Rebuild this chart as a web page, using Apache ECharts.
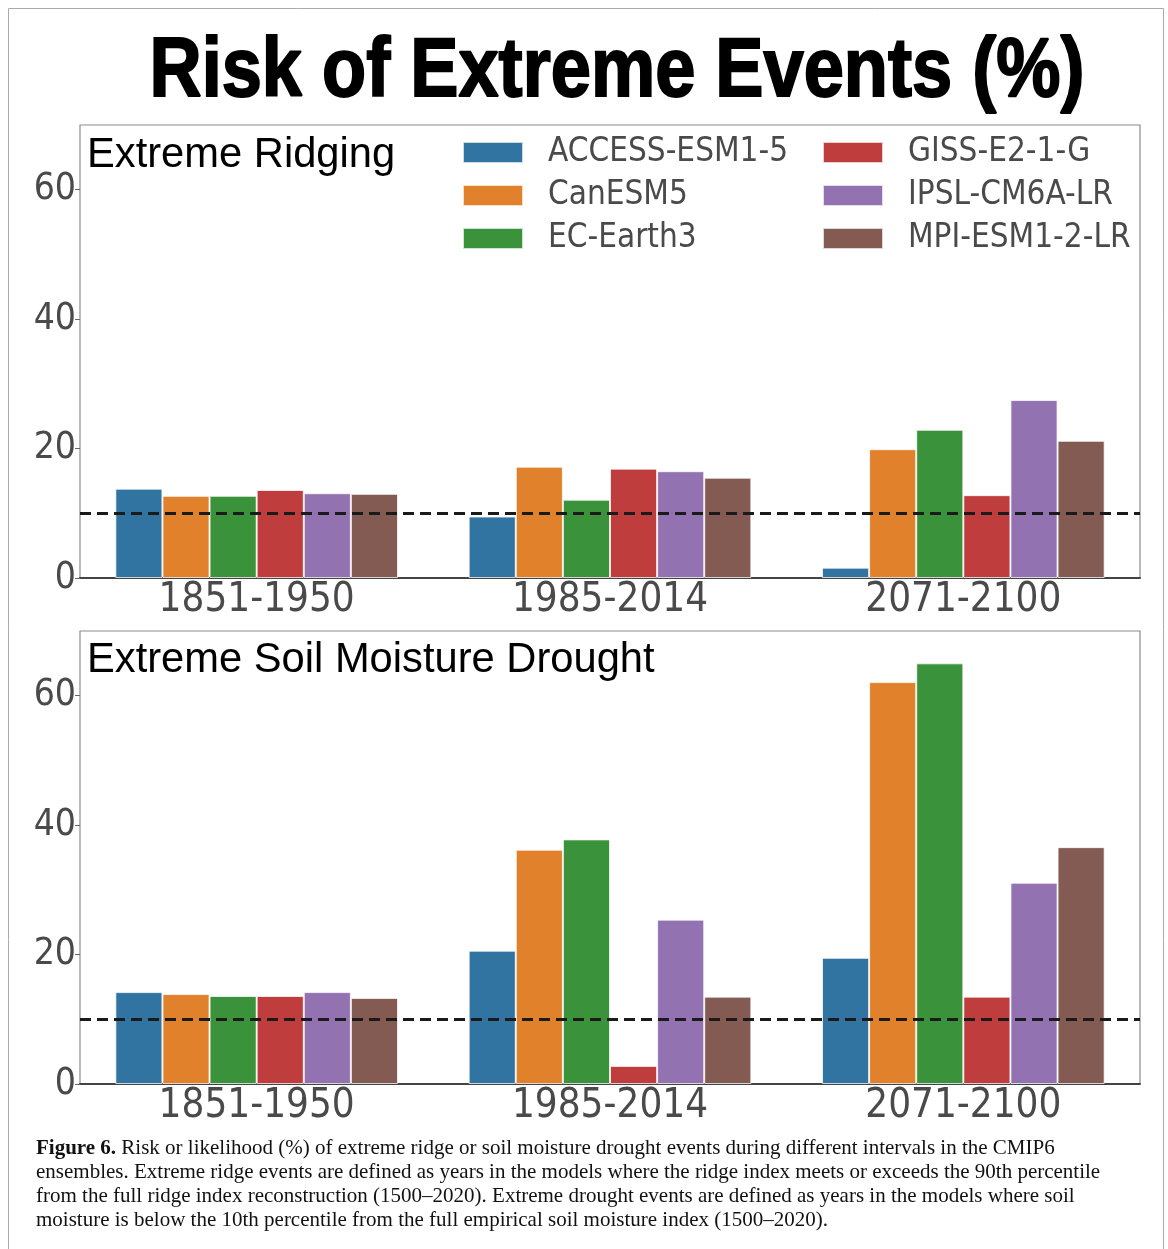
<!DOCTYPE html>
<html>
<head>
<meta charset="utf-8">
<script src="https://cdn.jsdelivr.net/npm/echarts@6/dist/echarts.min.js"></script>
<style>
html,body{margin:0;padding:0;background:#fff;}
#chart{width:1168px;height:1249px;}
</style>
</head>
<body>
<div id="chart"></div>
<script>
// ---- data ----
const categories = ['1851-1950', '1985-2014', '2071-2100'];
const models = ['ACCESS-ESM1-5', 'CanESM5', 'EC-Earth3', 'GISS-E2-1-G', 'IPSL-CM6A-LR', 'MPI-ESM1-2-LR'];
const colors = ['#3274a1', '#e1812c', '#3a923a', '#c03d3e', '#9372b2', '#845b53'];

const ridgeAccess = [13.8, 9.5, 1.6];
const ridgeCan    = [12.7, 17.2, 19.9];
const ridgeEC     = [12.7, 12.1, 22.9];
const ridgeGISS   = [13.6, 16.9, 12.8];
const ridgeIPSL   = [13.1, 16.5, 27.5];
const ridgeMPI    = [13.0, 15.5, 21.2];

const droughtAccess = [14.2, 20.6, 19.5];
const droughtCan    = [13.9, 36.2, 62.1];
const droughtEC     = [13.6, 37.8, 65.0];
const droughtGISS   = [13.6, 2.8, 13.5];
const droughtIPSL   = [14.2, 25.4, 31.1];
const droughtMPI    = [13.3, 13.5, 36.6];

const threshold = 10;
const yTicks = [0, 20, 40, 60];
const yMax = 70;

const mainTitle = 'Risk of Extreme Events (%)';
const panelTitles = ['Extreme Ridging', 'Extreme Soil Moisture Drought'];
const captionLines = [
  ['Figure 6.', ' Risk or likelihood (%) of extreme ridge or soil moisture drought events during different intervals in the CMIP6'],
  ['', 'ensembles. Extreme ridge events are defined as years in the models where the ridge index meets or exceeds the 90th percentile'],
  ['', 'from the full ridge index reconstruction (1500\u20132020). Extreme drought events are defined as years in the models where soil'],
  ['', 'moisture is below the 10th percentile from the full empirical soil moisture index (1500\u20132020).']
];

const ridgeData = [ridgeAccess, ridgeCan, ridgeEC, ridgeGISS, ridgeIPSL, ridgeMPI];
const droughtData = [droughtAccess, droughtCan, droughtEC, droughtGISS, droughtIPSL, droughtMPI];

// ---- styles ----
const NARROW = '"Liberation Sans Narrow", "Arial Narrow", "DejaVu Sans Condensed", sans-serif';
const SANS = '"Liberation Sans", Arial, sans-serif';
const SERIF = '"Liberation Serif", "Times New Roman", serif';
const tickColor = '#4a4a4a';

const grids = [
  {left: 80, top: 125, width: 1060, height: 453},
  {left: 80, top: 631, width: 1060, height: 453}
];

function makeXAxis(gi) {
  return {
    type: 'category', gridIndex: gi, data: categories,
    axisLine: {show: true, lineStyle: {color: '#444', width: 2}},
    axisTick: {show: false},
    axisLabel: {fontFamily: NARROW, fontSize: 40, color: tickColor, margin: 3}
  };
}
function makeYAxis(gi) {
  return {
    type: 'value', gridIndex: gi, min: 0, max: yMax,
    splitLine: {show: false},
    axisLine: {show: false},
    axisTick: {show: true, length: 5, lineStyle: {color: '#666'}, customValues: yTicks},
    axisLabel: {fontFamily: NARROW, fontSize: 37, color: tickColor, margin: 4, customValues: yTicks}
  };
}

const series = [];
[ridgeData, droughtData].forEach(function (panel, gi) {
  panel.forEach(function (vals, mi) {
    const s = {
      name: models[mi], type: 'bar', xAxisIndex: gi, yAxisIndex: gi,
      data: vals, barGap: '0%', barCategoryGap: '20%',
      itemStyle: {color: colors[mi], borderColor: 'rgba(255,255,255,0.75)', borderWidth: 1},
      emphasis: {disabled: true}
    };
    if (mi === 0) {
      s.markLine = {
        silent: true, symbol: ['none', 'none'],
        label: {show: false},
        lineStyle: {color: '#1a1a1a', type: [11, 6], width: 2.8},
        data: [{yAxis: threshold}],
        animation: false
      };
    }
    series.push(s);
  });
});

const legendCommon = {
  orient: 'vertical', itemWidth: 60, itemHeight: 21, itemGap: 10, padding: 0,
  icon: 'rect', selectedMode: false,
  textStyle: {fontFamily: NARROW, fontSize: 33, color: tickColor, padding: [0, 0, 0, 20]}
};

const captionGraphics = captionLines.map(function (ln, i) {
  return {
    type: 'text', x: 36, y: 1138 + i * 24,
    style: {
      text: (ln[0] ? '{b|' + ln[0] + '}' : '') + '{r|' + ln[1] + '}',
      verticalAlign: 'top',
      rich: {
        b: {fontFamily: SERIF, fontWeight: 'bold', fontSize: 21, fill: '#111'},
        r: {fontFamily: SERIF, fontSize: 21, fill: '#111'}
      }
    }
  };
});

const option = {
  animation: false,
  backgroundColor: '#fff',
  title: [
    {text: panelTitles[0], left: 87, top: 135, padding: 0,
     textStyle: {fontFamily: SANS, fontWeight: 'normal', fontSize: 41.7, color: '#000'}},
    {text: panelTitles[1], left: 87, top: 640, padding: 0,
     textStyle: {fontFamily: SANS, fontWeight: 'normal', fontSize: 41.7, color: '#000'}}
  ],
  legend: [
    Object.assign({}, legendCommon, {left: 462, top: 136, data: models.slice(0, 3)}),
    Object.assign({}, legendCommon, {left: 822, top: 136, data: models.slice(3, 6)})
  ],
  grid: grids.map(function (g) {
    return Object.assign({show: true, borderColor: '#8c8c8c', borderWidth: 1.2, containLabel: false}, g);
  }),
  xAxis: [makeXAxis(0), makeXAxis(1)],
  yAxis: [makeYAxis(0), makeYAxis(1)],
  series: series,
  graphic: [
    {type: 'rect', shape: {x: 8.5, y: 8.5, width: 1155, height: 1300},
     style: {fill: 'none', stroke: '#aaaaaa', lineWidth: 1}, silent: true, z: -10},
    {type: 'text', x: 617, y: 32, scaleX: 0.87, scaleY: 1,
     style: {text: mainTitle, textAlign: 'center', verticalAlign: 'top',
             font: 'bold 83px "Liberation Sans", Arial, sans-serif',
             fill: '#000', stroke: '#000', lineWidth: 2}}
  ].concat(captionGraphics)
};

const chart = echarts.init(document.getElementById('chart'), null, {renderer: 'canvas'});
chart.setOption(option);
</script>
</body>
</html>
